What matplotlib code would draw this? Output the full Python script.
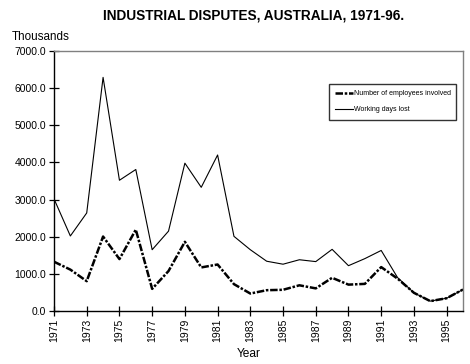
import matplotlib
matplotlib.use("Agg")
import matplotlib.pyplot as plt

plt.rcParams['font.family'] = ['Liberation Sans', 'DejaVu Sans']

years = list(range(1971, 1997))
employees = [1327, 1114, 803, 2005, 1398, 2190, 596, 1076, 1863, 1173, 1252, 723,
             470, 560, 571, 692, 609, 894, 710, 730, 1182, 872, 490, 266, 344, 578]
days_lost = [3020, 2020, 2640, 6290, 3520, 3810, 1650, 2150, 3980, 3330, 4200, 2010,
             1650, 1340, 1260, 1380, 1330, 1660, 1220, 1410, 1630, 900, 490, 266, 344, 578]
xtick_years = list(range(1971, 1997, 2))
yticks = [0, 1000, 2000, 3000, 4000, 5000, 6000, 7000]

fig = plt.figure(figsize=(4.70, 3.64), dpi=100)
ax = fig.add_axes([54/470, 1-311/364, (463-54)/470, (311-51)/364])

ax.plot(years, employees, color='black', lw=1.8, linestyle=(0, (3, 0.7, 1, 0.7)),
        label='Number of employees involved')
ax.plot(years, days_lost, color='black', lw=0.8, label='Working days lost')

ax.set_xlim(1971, 1996)
ax.set_ylim(0, 7000)
ax.set_xticks(xtick_years)
ax.set_xticklabels([str(y) for y in xtick_years], rotation=90, fontsize=7.5)
ax.set_yticks(yticks)
ax.set_yticklabels([f"{v:.1f}" for v in yticks], fontsize=7.5)
ax.tick_params(direction='inout', length=7, width=0.9, pad=2)

for s in ['top', 'right']:
    ax.spines[s].set_color('#808080')
    ax.spines[s].set_linewidth(1.0)
for s in ['left', 'bottom']:
    ax.spines[s].set_color('black')
    ax.spines[s].set_linewidth(1.0)

ax.set_xlabel('Year', fontsize=8.6)
ax.xaxis.set_label_coords((249-54)/409, -(354-311)/260)
ax.xaxis.label.set_va('center')

fig.text(254/470, 1-15/364, 'INDUSTRIAL DISPUTES, AUSTRALIA, 1971-96.', ha='center', va='center',
         fontsize=9.8, fontweight='bold')
fig.text(12/470, 1-37/364, 'Thousands', ha='left', va='center', fontsize=8.4)

leg = ax.legend(loc='upper left',
                bbox_to_anchor=((329-54)/409, 1-(121-51)/260, (456-329)/409, 37/260),
                mode='expand', fontsize=5, frameon=True, fancybox=False, handlelength=2.6,
                handletextpad=0.1, borderpad=0.9, labelspacing=1.3, borderaxespad=0)
leg.get_frame().set_edgecolor('black')
leg.get_frame().set_linewidth(1.0)

fig.savefig('out.png', dpi=100)
